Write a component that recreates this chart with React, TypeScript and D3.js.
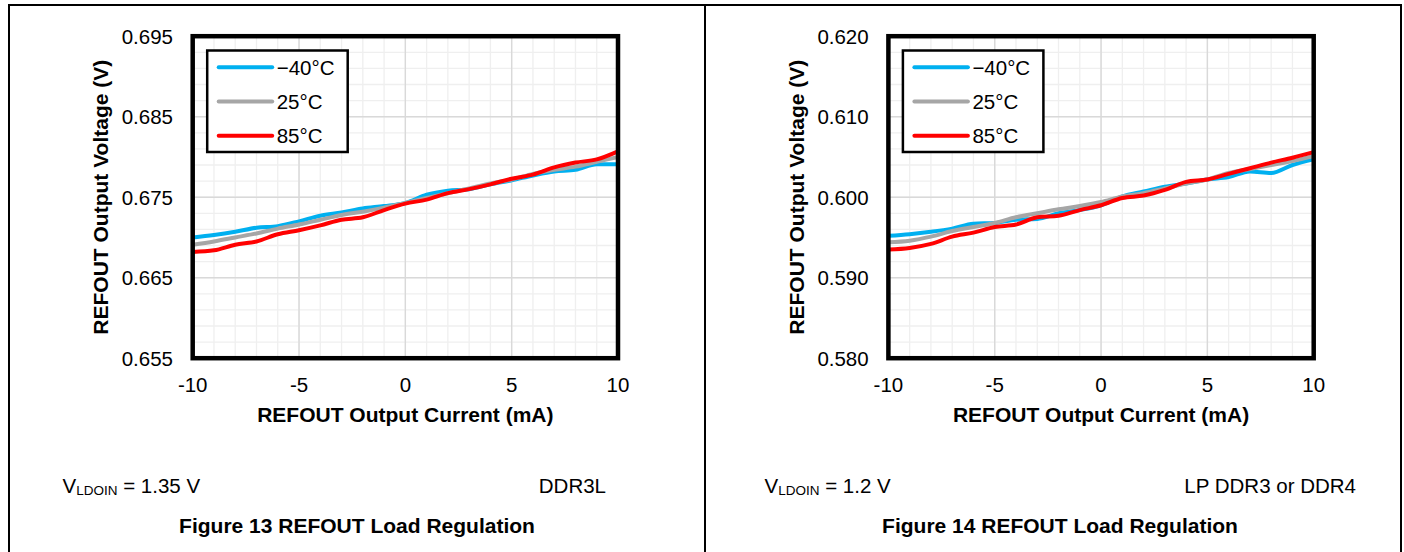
import * as d3 from 'd3';

// load current (mA), shared by all curves
const CURRENT = [-10, -9, -8, -7, -6, -5, -4, -3, -2, -1, 0, 1, 2, 3, 4, 5, 6, 7, 8, 9, 10];

// Figure 13, VLDOIN = 1.35 V (V)
const DDR3L_M40 = [0.67, 0.6703, 0.6707, 0.6712, 0.6714, 0.672, 0.6727, 0.6731, 0.6736, 0.6739, 0.6743, 0.6753, 0.6758, 0.676, 0.6766, 0.6771, 0.6777, 0.6782, 0.6784, 0.6791, 0.6791];
const DDR3L_25 = [0.6691, 0.6695, 0.67, 0.6705, 0.6711, 0.6716, 0.6722, 0.6728, 0.6732, 0.6737, 0.6743, 0.6749, 0.6755, 0.6761, 0.6767, 0.6772, 0.6779, 0.6784, 0.6788, 0.6794, 0.68];
const DDR3L_85 = [0.6682, 0.6684, 0.6691, 0.6695, 0.6704, 0.6709, 0.6715, 0.6722, 0.6725, 0.6734, 0.6742, 0.6747, 0.6755, 0.676, 0.6766, 0.6773, 0.6778, 0.6787, 0.6793, 0.6797, 0.6807];

// Figure 14, VLDOIN = 1.2 V (V)
const LPDDR_M40 = [0.5952, 0.5954, 0.5957, 0.5961, 0.5967, 0.5968, 0.5972, 0.5973, 0.598, 0.5984, 0.599, 0.6001, 0.6007, 0.6013, 0.6017, 0.6022, 0.6025, 0.6032, 0.603, 0.604, 0.6047];
const LPDDR_25 = [0.5944, 0.5946, 0.5951, 0.5958, 0.5963, 0.5968, 0.5975, 0.598, 0.5985, 0.5989, 0.5994, 0.6001, 0.6005, 0.6011, 0.6017, 0.6022, 0.603, 0.6035, 0.604, 0.6045, 0.6051];
const LPDDR_85 = [0.5935, 0.5937, 0.5942, 0.5951, 0.5956, 0.5963, 0.5966, 0.5975, 0.5977, 0.5984, 0.599, 0.5999, 0.6002, 0.6009, 0.6019, 0.6022, 0.6029, 0.6036, 0.6043, 0.6049, 0.6056];

const TEMPS = ['\u221240\u00b0C', '25\u00b0C', '85\u00b0C'];
const COLORS = ['#00b0f0', '#a6a6a6', '#ff0000'];

const X_TICKS = [-10, -5, 0, 5, 10];
const Y_TICKS_13 = [0.655, 0.665, 0.675, 0.685, 0.695];
const Y_TICKS_14 = [0.58, 0.59, 0.6, 0.61, 0.62];

const FONT = '"Liberation Sans", Arial, sans-serif';

type PanelProps = {
  left: number;
  series: number[][];
  yTicks: number[];
  vin: string;
  vinX: number;
  mode: string;
  modeRight: number;
  caption: string;
  captionX: number;
};

function Panel({ left, series, yTicks, vin, vinX, mode, modeRight, caption, captionX }: PanelProps) {
  const top = 36.2;
  const bottom = 358.2;
  const right = left + 425.3;
  const x = d3.scaleLinear().domain([-10, 10]).range([left, right]);
  const y = d3.scaleLinear().domain([yTicks[0], yTicks[yTicks.length - 1]]).range([bottom, top]);
  const line = d3.line<number>()
    .x((_, i) => x(CURRENT[i]))
    .y(d => y(d))
    .curve(d3.curveMonotoneX);

  const minorX = d3.range(-10, 10.01, 1);
  const minorY = d3.range(0, 21).map(i => yTicks[0] + i * 0.002);
  const cx = (left + right) / 2;
  const lx = left + 14.5;

  return (
    <g fontFamily={FONT}>
      {minorX.map(v => (
        <line key={'mx' + v} x1={x(v)} x2={x(v)} y1={top} y2={bottom} stroke="#efefef" strokeWidth={1.3} />
      ))}
      {minorY.map((v, i) => (
        <line key={'my' + i} x1={left} x2={right} y1={y(v)} y2={y(v)} stroke="#efefef" strokeWidth={1.3} />
      ))}
      {X_TICKS.map(v => (
        <line key={'gx' + v} x1={x(v)} x2={x(v)} y1={top} y2={bottom} stroke="#d9d9d9" strokeWidth={1.4} />
      ))}
      {yTicks.map(v => (
        <line key={'gy' + v} x1={left} x2={right} y1={y(v)} y2={y(v)} stroke="#d9d9d9" strokeWidth={1.4} />
      ))}

      {series.map((s, i) => (
        <path key={'s' + i} d={line(s) || ''} fill="none" stroke={COLORS[i]} strokeWidth={4} />
      ))}

      <rect x={left} y={top} width={right - left} height={bottom - top} fill="none" stroke="#000" strokeWidth={4.5} />

      <rect x={lx} y={50.5} width={140.5} height={101.5} fill="#fff" stroke="#000" strokeWidth={2.5} />
      {TEMPS.map((t, i) => {
        const ly = 67.3 + i * 34.2;
        return (
          <g key={t}>
            <line x1={lx + 11.5} x2={lx + 65} y1={ly} y2={ly} stroke={COLORS[i]} strokeWidth={4} strokeLinecap="round" />
            <text x={lx + 69.5} y={ly} dy="0.36em" fontSize={20.5}>{t}</text>
          </g>
        );
      })}

      {yTicks.map(v => (
        <text key={'ty' + v} x={left - 19.7} y={y(v)} dy="0.36em" textAnchor="end" fontSize={20.5}>
          {v.toFixed(3)}
        </text>
      ))}
      {X_TICKS.map(v => (
        <text key={'tx' + v} x={x(v)} y={391.5} textAnchor="middle" fontSize={20.5}>{v}</text>
      ))}

      <text x={cx} y={422} textAnchor="middle" fontSize={21} fontWeight="bold">
        REFOUT Output Current (mA)
      </text>
      <text
        transform={`translate(${left - 92},${(top + bottom) / 2}) rotate(-90)`}
        textAnchor="middle"
        dy="0.36em"
        fontSize={21}
        fontWeight="bold"
      >
        REFOUT Output Voltage (V)
      </text>

      <text x={vinX} y={493} fontSize={20.5}>
        V<tspan fontSize={13.5} dy={2}>LDOIN</tspan><tspan dy={-2}>{vin}</tspan>
      </text>
      <text x={modeRight} y={493} textAnchor="end" fontSize={20.5}>{mode}</text>
      <text x={captionX} y={533} textAnchor="middle" fontSize={21} fontWeight="bold">{caption}</text>
    </g>
  );
}

export default function App() {
  return (
    <svg width={1404} height={552} style={{ position: 'absolute', left: 0, top: 0, background: '#fff' }}>
      <rect x={0} y={0} width={1404} height={552} fill="#fff" />
      <path d="M9,552 V5 H1401 V552 M705,5 V552" fill="none" stroke="#000" strokeWidth={2} />
      <Panel
        left={192.7}
        series={[DDR3L_M40, DDR3L_25, DDR3L_85]}
        yTicks={Y_TICKS_13}
        vin=" = 1.35 V"
        vinX={62.5}
        mode="DDR3L"
        modeRight={606}
        caption="Figure 13 REFOUT Load Regulation"
        captionX={357}
      />
      <Panel
        left={888.4}
        series={[LPDDR_M40, LPDDR_25, LPDDR_85]}
        yTicks={Y_TICKS_14}
        vin=" = 1.2 V"
        vinX={764.5}
        mode="LP DDR3 or DDR4"
        modeRight={1356}
        caption="Figure 14 REFOUT Load Regulation"
        captionX={1060}
      />
    </svg>
  );
}
